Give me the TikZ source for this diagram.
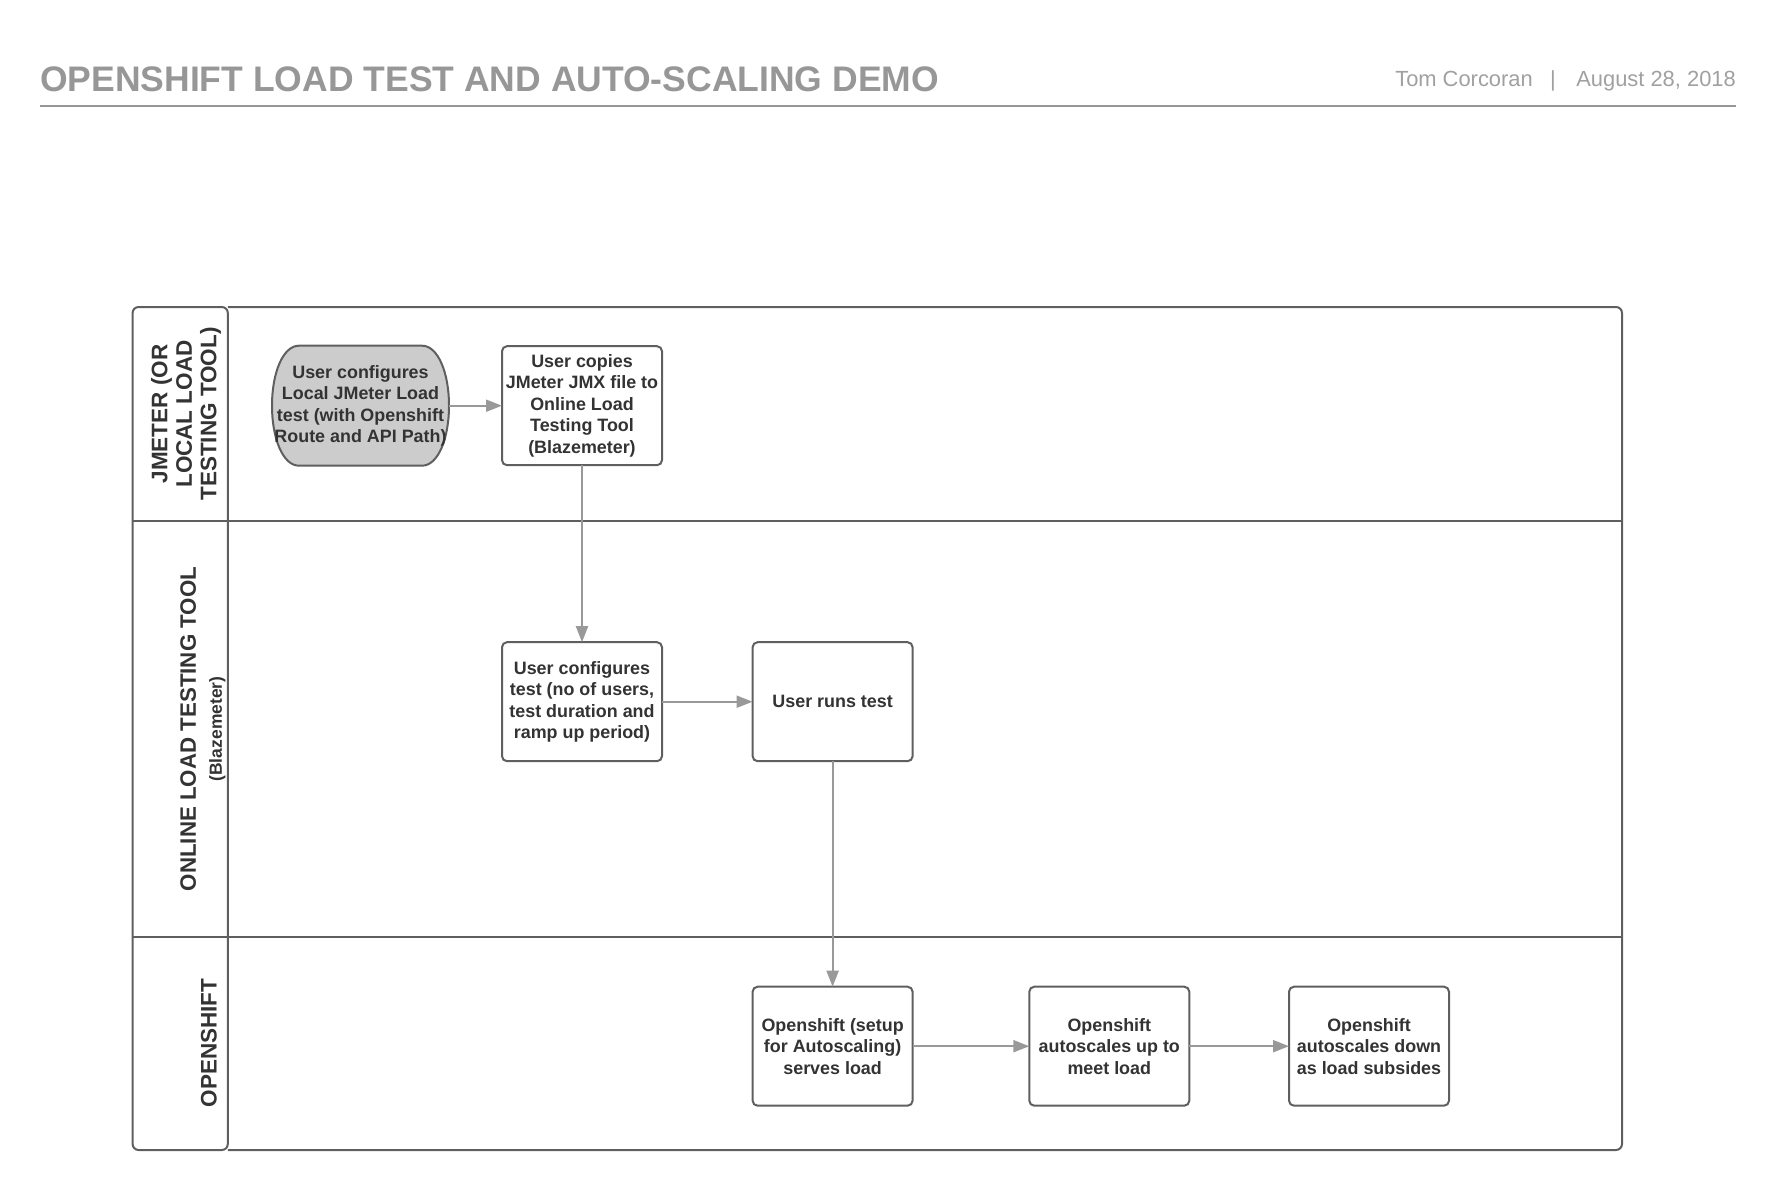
\documentclass[tikz,border=0pt]{standalone}
\usepackage{fontspec}
\setmainfont{Liberation Sans}
\usetikzlibrary{arrows.meta,positioning,backgrounds}
\definecolor{titlegray}{HTML}{979797}
\definecolor{headgray}{HTML}{A0A0A0}
\definecolor{bordergray}{HTML}{5F5F5F}
\definecolor{flowgray}{HTML}{999999}
\definecolor{textgray}{HTML}{333333}
\definecolor{startgray}{HTML}{CCCCCC}
\tikzstyle{process}=[rectangle,rounded corners=5pt,line width=2pt,draw=bordergray,fill=white,minimum width=160pt,minimum height=119pt,align=center,inner sep=0pt,outer sep=0pt,text=textgray,font=\bfseries\fontsize{17.9}{21.5}\selectfont]
\tikzstyle{terminal}=[rectangle,minimum width=177pt,minimum height=120pt,align=center,inner sep=0pt,outer sep=0pt,text=textgray,font=\bfseries\fontsize{17.9}{21.5}\selectfont]
\tikzstyle{lanelabel}=[rotate=90,align=center,inner sep=0pt,text=textgray]
\tikzstyle{pool}=[line width=2pt,draw=bordergray]

\begin{document}
\begin{tikzpicture}[x=1pt,y=-1pt,
                    flow/.style={-{Triangle[length=16pt,width=12pt]},line width=2pt,draw=flowgray,fill=flowgray}]
    \useasboundingbox (0,0) rectangle (1777,1190);

    % header
    \node[anchor=base west,inner sep=0pt,text=titlegray,font=\bfseries\fontsize{35.5}{40}\selectfont] (T) at (40,91.7) {OPENSHIFT LOAD TEST AND AUTO-SCALING DEMO};
    \node[anchor=base east,inner sep=0pt,text=headgray,font=\fontsize{21.9}{24}\selectfont] (D) at (1736,86.7) {August 28, 2018};
    \node[anchor=base,inner sep=0pt,text=headgray,font=\fontsize{21.9}{24}\selectfont] (S) at (1553,86.7) {|};
    \node[anchor=base east,inner sep=0pt,text=headgray,font=\fontsize{21.9}{24}\selectfont] (A) at (1533,86.7) {Tom Corcoran};
    \draw[titlegray,line width=2pt] (40,106.5) -- (1736,106.5);

    % pool and lanes
    \draw[pool,rounded corners=6pt] (132.6,307) rectangle (227.8,1150);
    \draw[pool,rounded corners=6pt] (227.8,307) -- (1622,307) -- (1622,1150) -- (227.8,1150);
    \draw[pool] (132.6,521.3) -- (1622,521.3);
    \draw[pool] (132.6,937.2) -- (1622,937.2);

    \node[lanelabel,font=\bfseries\fontsize{22.5}{24.5}\selectfont] (L1) at (186,414) {JMETER (OR\\LOCAL LOAD\\TESTING TOOL)};
    \node[lanelabel,font=\bfseries\fontsize{22.3}{26}\selectfont] (L2) at (203,729) {ONLINE LOAD TESTING TOOL\\\fontsize{17.5}{26}\selectfont(Blazemeter)};
    \node[lanelabel,font=\bfseries\fontsize{22.5}{24.5}\selectfont] (L3) at (209,1043) {OPENSHIFT};

    % steps
    \node[terminal] (J1) at (360.5,405.7) {User configures\\Local JMeter Load\\test (with Openshift\\Route and API Path)};
    \node[process] (J2) [right=53pt of J1] {User copies\\JMeter JMX file to\\Online Load\\Testing Tool\\(Blazemeter)};
    \node[process] (B1) [below=177pt of J2] {User configures\\test (no of users,\\test duration and\\ramp up period)};
    \node[process] (B2) [right=90.6pt of B1] {User runs test};
    \node[process] (O1) [below=225.5pt of B2] {Openshift (setup\\for Autoscaling)\\serves load};
    \node[process] (O2) [right=116.7pt of O1] {Openshift\\autoscales up to\\meet load};
    \node[process] (O3) [right=99.7pt of O2] {Openshift\\autoscales down\\as load subsides};

    \begin{scope}[on background layer]
        \filldraw[line width=2pt,draw=bordergray,fill=startgray]
            ([xshift=27pt]J1.north west) -- ([xshift=-27pt]J1.north east)
            .. controls +(16,0) and +(0,-33) .. (J1.east)
            .. controls +(0,33) and +(16,0) .. ([xshift=-27pt]J1.south east)
            -- ([xshift=27pt]J1.south west)
            .. controls +(-16,0) and +(0,33) .. (J1.west)
            .. controls +(0,-33) and +(-16,0) .. ([xshift=27pt]J1.north west) -- cycle;
    \end{scope}

    \path
        (J1) edge[flow] (J2)
        (J2) edge[flow] (B1)
        (B1) edge[flow] (B2)
        (B2) edge[flow] (O1)
        (O1) edge[flow] (O2)
        (O2) edge[flow] (O3);
\end{tikzpicture}
\end{document}
